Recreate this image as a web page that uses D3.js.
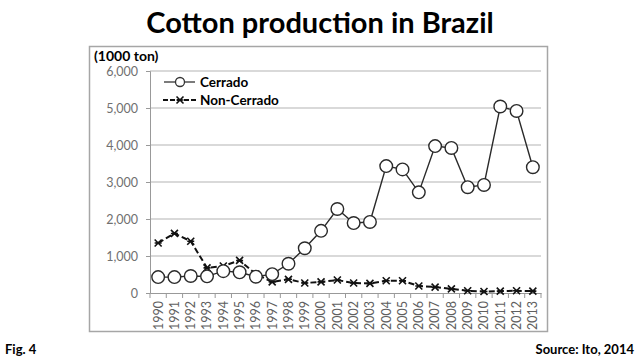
<!DOCTYPE html>
<html>
<head>
<meta charset="utf-8">
<script src="https://cdn.jsdelivr.net/npm/d3@7"></script>
<style>
  body { margin: 0; background: #fff; }
  text { font-family: Lato, "Open Sans", sans-serif; }
</style>
</head>
<body>
<svg id="chart" width="640" height="360"></svg>
<script>
// values, in 1000 ton
const years = ["1990","1991","1992","1993","1994","1995","1996","1997","1998","1999","2000","2001",
               "2002","2003","2004","2005","2006","2007","2008","2009","2010","2011","2012","2013"];
const cerrado = [430, 430, 460, 450, 590, 560, 440, 510, 790, 1210, 1680, 2270,
                 1890, 1920, 3430, 3340, 2720, 3970, 3920, 2860, 2920, 5040, 4920, 3400];
const nonCerrado = [1350, 1610, 1400, 680, 730, 880, 510, 300, 370, 270, 300, 350,
                    270, 260, 330, 330, 190, 160, 110, 60, 40, 50, 60, 50];
const yTicks = [0, 1000, 2000, 3000, 4000, 5000, 6000];

const svg = d3.select("#chart");

// title
svg.append("text")
    .attr("x", 320).attr("y", 33)
    .attr("text-anchor", "middle")
    .style("font-size", "29px").style("font-weight", "bold")
    .text("Cotton production in Brazil");

// outer frame of the figure
svg.append("rect")
    .attr("x", 89.5).attr("y", 46.5)
    .attr("width", 458).attr("height", 285)
    .attr("fill", "none").attr("stroke", "#a6a6a6").attr("stroke-width", 1.5);

const plotL = 150, plotR = 541, plotT = 71, plotB = 293;

const x = d3.scaleBand().domain(years).range([plotL, plotR]);
const y = d3.scaleLinear().domain([0, 6000]).range([plotB, plotT]);

// gridlines
svg.append("g")
  .selectAll("line")
  .data(yTicks.filter(d => d > 0))
  .join("line")
    .attr("x1", plotL).attr("x2", plotR)
    .attr("y1", d => y(d)).attr("y2", d => y(d))
    .attr("stroke", "#b3b3b3").attr("stroke-width", 1.2);

// y axis
const yAxis = svg.append("g")
    .attr("transform", "translate(" + plotL + ",0)")
    .call(d3.axisLeft(y).tickValues(yTicks).tickFormat(d3.format(",")).tickSize(4).tickPadding(8));
yAxis.select(".domain").attr("stroke", "#999");
yAxis.selectAll(".tick line").attr("stroke", "#999");
yAxis.selectAll("text").attr("fill", "#707070").style("font-size", "12.5px");

// x axis
const xAxis = svg.append("g")
    .attr("transform", "translate(0," + plotB + ")")
    .call(d3.axisBottom(x).tickSize(0).tickPadding(0));
xAxis.select(".domain").attr("stroke", "#999");
xAxis.selectAll(".tick text")
    .attr("fill", "#606060").style("font-size", "12.5px")
    .attr("transform", "rotate(-90)")
    .attr("text-anchor", "end")
    .attr("x", -8).attr("y", 0).attr("dy", "0.35em");
// ticks on band edges
svg.append("g")
  .selectAll("line")
  .data(years.concat(["end"]))
  .join("line")
    .attr("x1", (d, i) => plotL + i * x.step())
    .attr("x2", (d, i) => plotL + i * x.step())
    .attr("y1", plotB).attr("y2", plotB + 5)
    .attr("stroke", "#999");

const cx = (d, i) => x(years[i]) + x.bandwidth() / 2;

// Non-Cerrado series
const lineNon = d3.line().x(cx).y(d => y(d));
svg.append("path")
    .attr("d", lineNon(nonCerrado))
    .attr("fill", "none").attr("stroke", "#111")
    .attr("stroke-width", 2).attr("stroke-dasharray", "6,3");

function starMark(g, px, py) {
  const s = 3.5;
  g.append("path")
    .attr("d", `M${px - s},${py - s}L${px + s},${py + s}M${px + s},${py - s}L${px - s},${py + s}M${px - s},${py}L${px + s},${py}`)
    .attr("stroke", "#111").attr("stroke-width", 1.6);
}
const starG = svg.append("g");
nonCerrado.forEach((d, i) => starMark(starG, cx(d, i), y(d)));

// Cerrado series
const lineC = d3.line().x(cx).y(d => y(d));
svg.append("path")
    .attr("d", lineC(cerrado))
    .attr("fill", "none").attr("stroke", "#2a2a2a").attr("stroke-width", 1.4);
svg.append("g")
  .selectAll("circle")
  .data(cerrado)
  .join("circle")
    .attr("cx", cx).attr("cy", d => y(d))
    .attr("r", 6.3)
    .attr("fill", "#fff").attr("stroke", "#2a2a2a").attr("stroke-width", 1.4);

// unit label
svg.append("text")
    .attr("x", 94).attr("y", 61)
    .style("font-size", "14px").style("font-weight", "bold")
    .text("(1000 ton)");

// legend
const leg = svg.append("g");
leg.append("line").attr("x1", 164).attr("x2", 195).attr("y1", 82).attr("y2", 82)
    .attr("stroke", "#333").attr("stroke-width", 1.3);
leg.append("circle").attr("cx", 180).attr("cy", 82).attr("r", 4.5)
    .attr("fill", "#fff").attr("stroke", "#333").attr("stroke-width", 1.3);
leg.append("text").attr("x", 200).attr("y", 82).attr("dy", "0.35em")
    .style("font-size", "13.5px").style("font-weight", "bold").text("Cerrado");
leg.append("line").attr("x1", 163).attr("x2", 196).attr("y1", 100).attr("y2", 100)
    .attr("stroke", "#111").attr("stroke-width", 2).attr("stroke-dasharray", "5,2");
starMark(leg, 180, 100);
leg.append("text").attr("x", 200).attr("y", 100).attr("dy", "0.35em")
    .style("font-size", "13.5px").style("font-weight", "bold").text("Non-Cerrado");

// footer
svg.append("text").attr("x", 5).attr("y", 354)
    .style("font-size", "13px").style("font-weight", "bold").text("Fig. 4");
svg.append("text").attr("x", 634).attr("y", 354).attr("text-anchor", "end")
    .style("font-size", "13px").style("font-weight", "bold").text("Source: Ito, 2014");
</script>
</body>
</html>
